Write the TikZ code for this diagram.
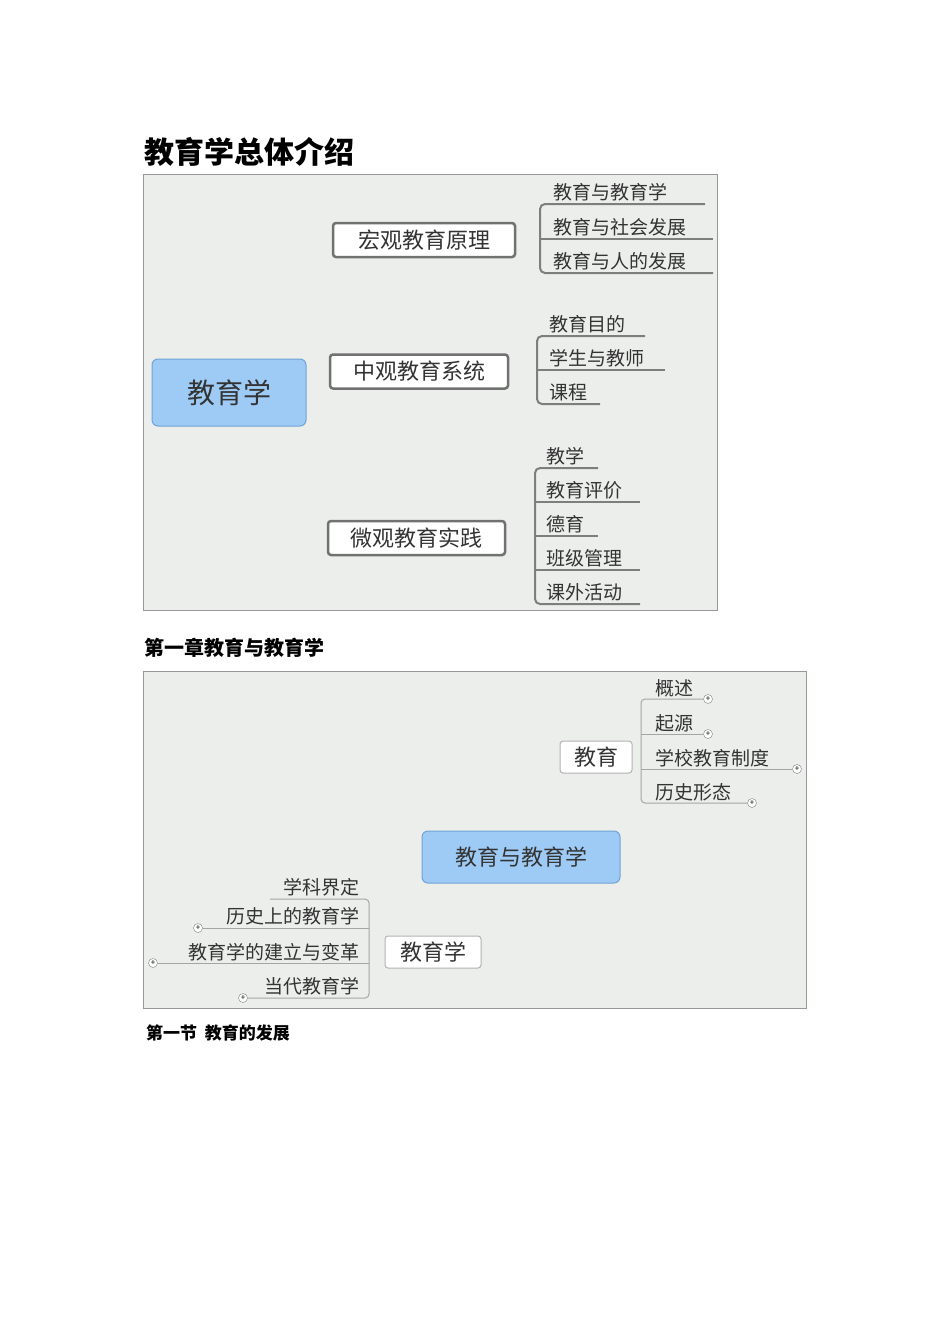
\documentclass[tikz,border=0pt]{standalone}
\usepackage{fontspec}
\setmainfont{Noto Sans CJK SC}
\usetikzlibrary{backgrounds}
\definecolor{bgc}{HTML}{ECEEEC}
\definecolor{blu}{HTML}{9ECBF5}
\definecolor{bluB}{HTML}{6FA3D6}
\definecolor{lin}{HTML}{7E7E7E}
\definecolor{txt}{HTML}{333333}
\tikzset{
 center/.style={draw=bluB,fill=blu,rounded corners=6pt,line width=1pt,text=txt,align=center},
 br/.style={draw=lin!90!black,fill=white,rounded corners=3pt,line width=2.5pt,text=txt,inner sep=0pt,minimum height=34pt},
 br2/.style={draw=lin!60,fill=white,rounded corners=3pt,line width=1pt,text=txt,inner sep=0pt,minimum height=32pt},
 leaf/.style={text=txt,font=\fontsize{19}{19}\selectfont,inner sep=0pt},
 ul/.style={draw=lin,line width=2pt},
 ul2/.style={draw=lin!70,line width=1pt},
 plus/.style={circle,draw=lin,fill=white,inner sep=0pt,minimum size=9pt,font=\fontsize{8}{8}\selectfont,text=black},
 trunk/.style={draw=lin,line width=12pt},
}
\begin{document}
\begin{tikzpicture}[x=1pt,y=-1pt]
\useasboundingbox (0,0) rectangle (950,1344);
\fill[white] (0,0) rectangle (950,1344);
% headings
\node[anchor=west,font=\bfseries\fontsize{30}{30}\selectfont,inner sep=0pt] (h1) at (144,152) {教育学总体介绍};
\node[anchor=west,font=\bfseries\fontsize{20}{20}\selectfont,inner sep=0pt] (h2) at (144,648) {第一章教育与教育学};
\node[anchor=west,font=\bfseries\fontsize{17}{17}\selectfont,inner sep=0pt] (h3) at (146,1033) {第一节\ \ 教育的发展};
% ===== diagram 1
\draw[lin!80,fill=bgc] (143,174) rectangle (717,610);
\node[center,minimum width=154pt,minimum height=67pt,font=\fontsize{28}{28}\selectfont] (root) at (229,392.5) {教育学};
\node[br,minimum width=182pt,font=\fontsize{22}{22}\selectfont] (b1) at (424,240) {宏观教育原理};
\node[br,minimum width=178pt,font=\fontsize{22}{22}\selectfont] (b2) at (419,371.5) {中观教育系统};
\node[br,minimum width=177pt,font=\fontsize{22}{22}\selectfont] (b3) at (416.5,538) {微观教育实践};
\begin{scope}[on background layer]
\fill[bgc] (143,174) rectangle (717,610);
\draw[trunk] (b1.west) -- (250,240) to[out=180,in=90] (228,262) -- (228,516) to[out=-90,in=180] (250,538) -- (b3.west);
\draw[draw=lin,line width=5pt] (root.east) -- (b2.west);
\draw[draw=lin,line width=4pt] (b1.east) -- (540,240);
\draw[draw=lin,line width=4pt] (b2.east) -- (537,371.5);
\draw[draw=lin,line width=4pt] (b3.east) -- (535,538);
\end{scope}
% leaves b1
\node[leaf,anchor=south west] (l11) at (553,201) {教育与教育学};
\node[leaf,anchor=south west] (l12) at (553,236) {教育与社会发展};
\node[leaf,anchor=south west] (l13) at (553,270) {教育与人的发展};
\draw[ul] (705,204) -- (545,204) to[out=180,in=90] (540,209) -- (540,268) to[out=-90,in=180] (545,273) -- (713,273);
\draw[ul] (540,239) -- (713,239);
% leaves b2
\node[leaf,anchor=south west] (l21) at (549,333) {教育目的};
\node[leaf,anchor=south west] (l22) at (549,367) {学生与教师};
\node[leaf,anchor=south west] (l23) at (549,401) {课程};
\draw[ul] (645,336) -- (542,336) to[out=180,in=90] (537,341) -- (537,399) to[out=-90,in=180] (542,404) -- (600,404);
\draw[ul] (537,370) -- (665,370);
% leaves b3
\node[leaf,anchor=south west] (l31) at (546,465) {教学};
\node[leaf,anchor=south west] (l32) at (546,499) {教育评价};
\node[leaf,anchor=south west] (l33) at (546,533) {德育};
\node[leaf,anchor=south west] (l34) at (546,567) {班级管理};
\node[leaf,anchor=south west] (l35) at (546,601) {课外活动};
\draw[ul] (598,468) -- (540,468) to[out=180,in=90] (535,473) -- (535,599) to[out=-90,in=180] (540,604) -- (640,604);
\draw[ul] (535,502) -- (640,502);
\draw[ul] (535,536) -- (598,536);
\draw[ul] (535,570) -- (640,570);
% ===== diagram 2
\draw[lin!80,fill=bgc] (143,671) rectangle (806,1008);
\node[center,minimum width=198pt,minimum height=52pt,font=\fontsize{22}{22}\selectfont] (c2) at (521,857) {教育与教育学};
\node[br2,minimum width=72pt,font=\fontsize{22}{22}\selectfont] (jy) at (596,757) {教育};
\node[br2,minimum width=96pt,font=\fontsize{22}{22}\selectfont] (jyx) at (433,952) {教育学};
\begin{scope}[on background layer]
\fill[bgc] (143,671) rectangle (806,1008);
\draw[lin,line width=4pt] (517,834) .. controls (524,775) and (540,757) .. (jy.west);
\draw[lin,line width=4pt] (511,880) .. controls (505,935) and (495,952) .. (jyx.east);
\draw[ul2] (jy.east) -- (641,757);
\draw[ul2] (jyx.west) -- (369,952);
\end{scope}
% right leaves
\node[leaf,anchor=south west] (r1) at (655,697) {概述};
\node[leaf,anchor=south west] (r2) at (655,732) {起源};
\node[leaf,anchor=south west] (r3) at (655,767) {学校教育制度};
\node[leaf,anchor=south west] (r4) at (655,801) {历史形态};
\node[plus] (p1) at (708,699) {+};
\node[plus] (p2) at (708,734) {+};
\node[plus] (p3) at (797,769) {+};
\node[plus] (p4) at (752,803) {+};
\draw[ul2] (p1) -- (645,699) to[out=180,in=90] (641,703) -- (641,799) to[out=-90,in=180] (645,803) -- (p4);
\draw[ul2] (641,734) -- (p2);
\draw[ul2] (641,769) -- (p3);
% left leaves
\node[leaf,anchor=south east] (s1) at (360,896) {学科界定};
\node[leaf,anchor=south east] (s2) at (360,925) {历史上的教育学};
\node[leaf,anchor=south east] (s3) at (360,961) {教育学的建立与变革};
\node[leaf,anchor=south east] (s4) at (360,995) {当代教育学};
\node[plus] (q2) at (198,928) {+};
\node[plus] (q3) at (153,963) {+};
\node[plus] (q4) at (243,998) {+};
\draw[ul2] (270,899) -- (365,899) to[out=0,in=90] (369,903) -- (369,994) to[out=-90,in=0] (365,998) -- (q4);
\draw[ul2] (369,928) -- (q2);
\draw[ul2] (369,963) -- (q3);
\end{tikzpicture}
\end{document}
